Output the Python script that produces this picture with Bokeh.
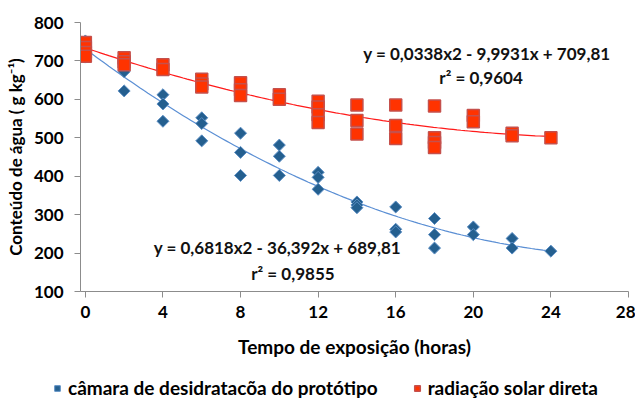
import numpy as np
from bokeh.plotting import figure
from bokeh.layouts import column
from bokeh.models import Legend, LegendItem, Label, FixedTicker, Range1d
from bokeh.embed import file_html
from bokeh.resources import INLINE

# --- data ---
hours_camara = [0, 0, 0, 2, 2, 2, 4, 4, 4, 6, 6, 6, 8, 8, 8, 10, 10, 10,
                12, 12, 12, 14, 14, 14, 16, 16, 16, 18, 18, 18, 20, 20, 22, 22, 24]
agua_camara = [752, 735, 710, 690, 672, 622, 612, 588, 543, 552, 537, 492,
               512, 462, 402, 481, 452, 402, 410, 397, 366, 333, 325, 318,
               320, 262, 255, 290, 248, 213, 268, 248, 238, 213, 205]

hours_solar = [0, 0, 0, 0, 2, 2, 2, 4, 4, 6, 6, 6, 8, 8, 8, 10, 10,
               12, 12, 12, 12, 14, 14, 14, 16, 16, 16, 18, 18, 18, 18, 20, 20, 22, 22, 24]
agua_solar = [748, 735, 722, 712, 708, 698, 690, 690, 678, 652, 640, 632,
              643, 625, 610, 612, 600, 595, 580, 560, 540, 585, 545, 510,
              585, 532, 498, 583, 500, 488, 475, 558, 542, 512, 505, 500]

x_ticks = [0, 4, 8, 12, 16, 20, 24, 28]
y_ticks = [100, 200, 300, 400, 500, 600, 700, 800]

eq_camara = "y = 0,6818x2 - 36,392x + 689,81"
r2_camara = "r² = 0,9855"
eq_solar = "y = 0,0338x2 - 9,9931x + 709,81"
r2_solar = "r² = 0,9604"
legend_labels = ["câmara de desidratacõa do protótipo", "radiação solar direta"]
x_title = "Tempo de exposição (horas)"
y_title = "Conteúdo de água ( g kg⁻¹)"

FONT = "Lato"
CAM_STYLE = dict(marker="square", angle=np.pi / 4, fill_color="#245f8f",
                 line_color="#5b8ec4", line_width=1)
SOL_STYLE = dict(marker="square", fill_color="#ff3300", line_color="#c5504c", line_width=1.5)

p = figure(width=635, height=370, output_backend="svg", toolbar_location=None,
           x_range=Range1d(-0.25, 28), y_range=Range1d(100, 800),
           min_border_left=80, min_border_right=7, min_border_top=22,
           min_border_bottom=79)
p.frame_align = False
p.outline_line_color = None
p.xgrid.grid_line_color = None
p.ygrid.grid_line_color = None

for ax in (p.xaxis[0], p.yaxis[0]):
    ax.axis_line_color = "#8c8c8c"
    ax.major_tick_line_color = "#8c8c8c"
    ax.minor_tick_line_color = None
    ax.major_tick_in = 0
    ax.major_tick_out = 6
    ax.major_label_text_font = FONT
    ax.major_label_text_font_style = "bold"
    ax.major_label_text_font_size = "17px"
    ax.major_label_text_color = "#000000"
    ax.axis_label_text_font = FONT
    ax.axis_label_text_font_style = "bold"
    ax.axis_label_text_color = "#000000"

p.xaxis.axis_label_text_font_size = "19px"
p.yaxis.axis_label_text_font_size = "17px"
p.xaxis.ticker = FixedTicker(ticks=x_ticks)
p.yaxis.ticker = FixedTicker(ticks=y_ticks)
p.xaxis.axis_label = x_title
p.yaxis.axis_label = y_title
p.xaxis.major_label_standoff = 8
p.xaxis.axis_label_standoff = 14
p.yaxis.major_label_standoff = 11
p.yaxis.axis_label_standoff = 5

# trend lines (quadratic fit of the data)
xs = np.linspace(0, 24, 120)
cb = np.polyfit(hours_camara, agua_camara, 2)
cs = np.polyfit(hours_solar, agua_solar, 2)
p.line(xs, np.polyval(cb, xs), line_color="#5b8fd4", line_width=1.2)
p.line(xs, np.polyval(cs, xs), line_color="#ff1a1a", line_width=1.2)

p.scatter(hours_camara, agua_camara, size=8.5, **CAM_STYLE)
p.scatter(hours_solar, agua_solar, size=12, **SOL_STYLE)

label_kw = dict(text_font=FONT, text_font_style="bold", text_font_size="17px",
                text_color="#111111", text_align="center", text_baseline="middle")
p.add_layout(Label(x=20.7, y=719, text=eq_solar, **label_kw))
p.add_layout(Label(x=20.4, y=657, text=r2_solar, **label_kw))
p.add_layout(Label(x=9.9, y=215, text=eq_camara, **label_kw))
p.add_layout(Label(x=10.7, y=147, text=r2_camara, **label_kw))

# legend strip below the chart (proxy glyphs lie outside its view)
lg = figure(width=635, height=29, output_backend="svg", toolbar_location=None,
            x_range=Range1d(0, 1), y_range=Range1d(0, 1),
            x_axis_location=None, y_axis_location=None,
            min_border_left=0, min_border_right=0, min_border_top=0, min_border_bottom=0)
lg.frame_align = False
lg.grid.visible = False
lg.outline_line_color = None
lc = lg.scatter([-5], [-5], size=7, **CAM_STYLE)
ls = lg.scatter([-5], [-5], size=9, **SOL_STYLE)
legend = Legend(items=[LegendItem(label=legend_labels[0], renderers=[lc]),
                       LegendItem(label=legend_labels[1], renderers=[ls])],
                orientation="horizontal", location=(50, 0),
                label_text_font=FONT, label_text_font_style="bold",
                label_text_font_size="19px", label_text_color="#000000",
                glyph_width=14, glyph_height=14, spacing=32, padding=2, margin=0,
                label_standoff=4, border_line_color=None, background_fill_alpha=0)
lg.add_layout(legend, "center")

layout = column(p, lg, spacing=0)
open("out.html", "w").write(file_html(layout, INLINE))
